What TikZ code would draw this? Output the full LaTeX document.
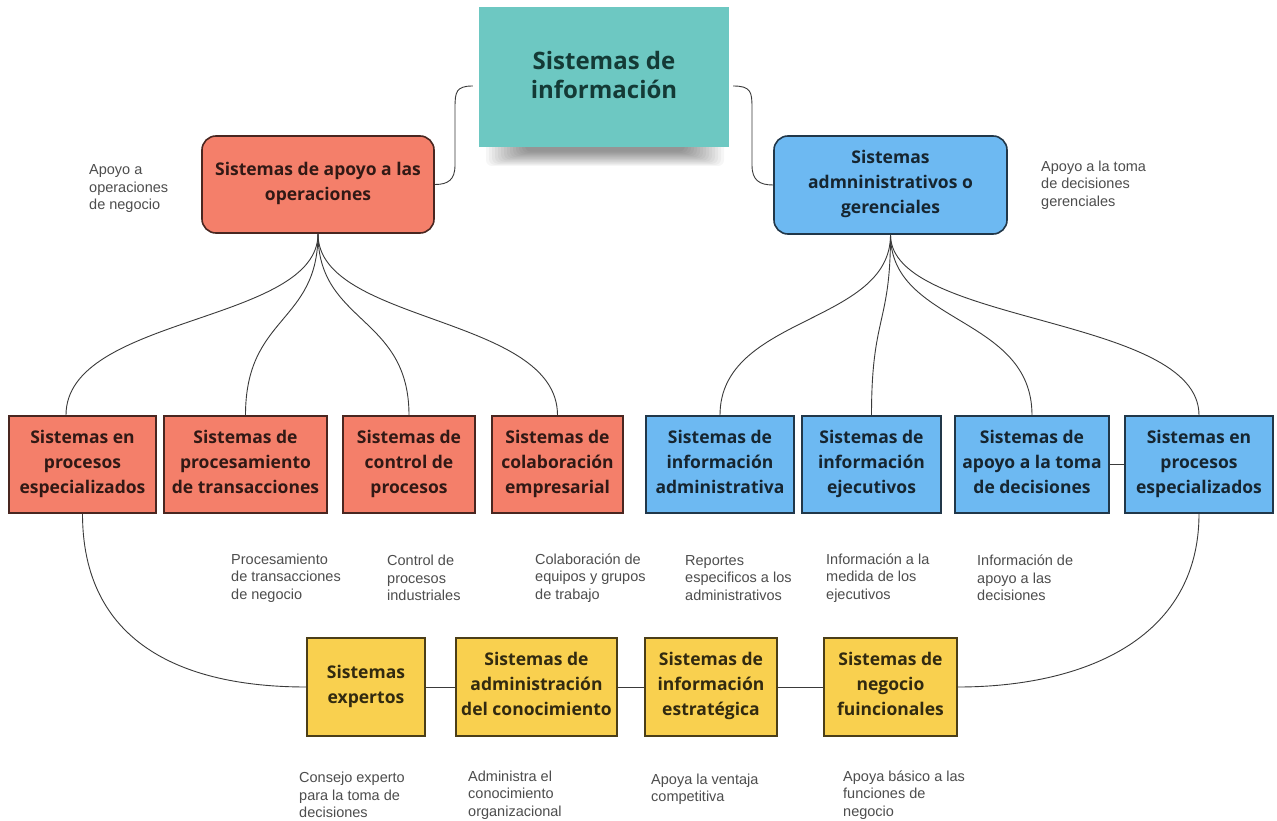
\documentclass[tikz,border=0pt]{standalone}
\usepackage{fontspec}
\setmainfont{Liberation Sans}
\newfontfamily\boxfont{Open Sans}
\usetikzlibrary{calc}

\definecolor{tealfill}{HTML}{6DC8C2}
\definecolor{tealtext}{HTML}{143A36}
\definecolor{opsfill}{HTML}{F47F6A}
\definecolor{admfill}{HTML}{6DB9F2}
\definecolor{yelfill}{HTML}{F9D04F}
\definecolor{notegray}{HTML}{4D4D4D}
\definecolor{linegray}{HTML}{3A3A3A}

% fixed line strut so every box centres its text the same way
\newcommand{\boxstrut}{\rule[-5.5pt]{0pt}{25pt}}

\begin{document}
\begin{tikzpicture}[x=1pt,y=-1pt,
  box/.style={draw=#1!30!black, fill=#1, text=#1!20!black, line width=1.6pt,
    inner sep=0pt, align=center,
    font=\boxfont\bfseries\fontsize{17.5}{25}\selectfont,
    execute at begin node={\boxstrut}, execute at end node={\boxstrut}},
  note/.style={font=\fontsize{14.5}{17.5}\selectfont, text=notegray,
    align=left, inner sep=0pt, anchor=west},
  conn/.style={draw=linegray, line width=0.9pt},
]
\fill[white] (0,0) rectangle (1277,821);
\useasboundingbox (0,0) rectangle (1277,821);

% soft shadow under the title card
\foreach \k in {0,...,13}
  \fill[black, opacity=0.035, rounded corners=6pt]
    (486+3*\k,138) rectangle (724-3*\k,166-1.1*\k);

% title card
\node[fill=tealfill, inner sep=0pt, minimum width=250pt, minimum height=140pt]
  (top) at (604,77) {};
\node[text=tealtext, inner sep=0pt, align=center,
      font=\boxfont\bfseries\fontsize{24}{29}\selectfont,
      execute at begin node={\strut}, execute at end node={\strut}]
  (title) at ([yshift=-2pt]top.center) {Sistemas de\\información};

% second level
\node[box=opsfill, rounded corners=14pt, minimum width=232pt, minimum height=97pt]
  (ops) at (318,184.5) {Sistemas de apoyo a las\\operaciones};
\node[box=admfill, rounded corners=14pt, minimum width=233pt, minimum height=98pt]
  (adm) at (890.5,185) {Sistemas\\admninistrativos o\\gerenciales};

% operations subsystems
\node[box=opsfill, minimum width=147pt, minimum height=97pt] (spe) at (82.5,464.5)
  {Sistemas en\\procesos\\especializados};
\node[box=opsfill, minimum width=163pt, minimum height=97pt] (ptr) at (245.5,464.5)
  {Sistemas de\\procesamiento\\de transacciones};
\node[box=opsfill, minimum width=132pt, minimum height=97pt] (ctl) at (409,464.5)
  {Sistemas de\\control de\\procesos};
\node[box=opsfill, minimum width=131pt, minimum height=97pt] (col) at (557.5,464.5)
  {Sistemas de\\colaboración\\empresarial};

% management subsystems
\node[box=admfill, minimum width=148pt, minimum height=97pt] (sia) at (720,464.5)
  {Sistemas de\\información\\administrativa};
\node[box=admfill, minimum width=139pt, minimum height=97pt] (sie) at (871.5,464.5)
  {Sistemas de\\información\\ejecutivos};
\node[box=admfill, minimum width=154pt, minimum height=97pt] (sat) at (1032,464.5)
  {Sistemas de\\apoyo a la toma\\de decisiones};
\node[box=admfill, minimum width=148pt, minimum height=97pt] (spr) at (1199,464.5)
  {Sistemas en\\procesos\\especializados};

% bottom row
\node[box=yelfill, minimum width=118pt, minimum height=98pt] (exp) at (366,687)
  {Sistemas\\expertos};
\node[box=yelfill, minimum width=161pt, minimum height=98pt] (kno) at (536.5,687)
  {Sistemas de\\administración\\del conocimiento};
\node[box=yelfill, minimum width=132pt, minimum height=98pt] (est) at (711,687)
  {Sistemas de\\información\\estratégica};
\node[box=yelfill, minimum width=133pt, minimum height=98pt] (neg) at (890.5,687)
  {Sistemas de\\negocio\\fuincionales};

% descriptions
\node[note] (d1) at (89,189) {Apoyo a\\operaciones\\de negocio};
\node[note] (d2) at (1041,185) {Apoyo a la toma\\de decisiones\\gerenciales};
\node[note] (d3) at (231,578) {Procesamiento\\de transacciones\\de negocio};
\node[note] (d4) at (387,578) {Control de\\procesos\\industriales};
\node[note] (d5) at (535,578) {Colaboración de\\equipos y grupos\\de trabajo};
\node[note] (d6) at (685,578) {Reportes\\especificos a los\\administrativos};
\node[note] (d7) at (826,578) {Información a la\\medida de los\\ejecutivos};
\node[note] (d8) at (977,578) {Información de\\apoyo a las\\decisiones};
\node[note] (d9) at (299,795) {Consejo experto\\para la toma de\\decisiones};
\node[note] (d10) at (468,795) {Administra el\\conocimiento\\organizacional};
\node[note] (d11) at (651,789) {Apoya la ventaja\\competitiva};
\node[note] (d12) at (843,795) {Apoya básico a las\\funciones de\\negocio};

% title card to the two branches
\draw[conn] ([xshift=-6pt,yshift=-9pt]top.west)
  .. controls (456,86) and (455,92) .. (455,108) -- (455,165)
  .. controls (455,180) and (448,184.5) .. (ops.east);
\draw[conn] ([xshift=4pt,yshift=-9pt]top.east)
  .. controls (751,86) and (752,92) .. (752,108) -- (752,165)
  .. controls (752,180) and (759,185) .. (adm.west);

% operations fan-out
\draw[conn] (ops.south) .. controls ($(ops.south)+(0,90)$) and ($(spe.north)+(-16.5,-100)$) .. ([xshift=-16.5pt]spe.north);
\foreach \c in {ptr,ctl,col}
  \draw[conn] (ops.south) .. controls ($(ops.south)+(0,90)$) and ($(\c.north)+(0,-100)$) .. (\c.north);

% management fan-out
\foreach \c in {sia,sie,sat,spr}
  \draw[conn] (adm.south) .. controls ($(adm.south)+(0,90)$) and ($(\c.north)+(0,-100)$) .. (\c.north);

\draw[conn] (sat.east) -- (spr.west);

% links to the bottom row
\draw[conn] (spe.south) .. controls ($(spe.south)+(0,127)$) and ($(exp.west)+(-127,0)$) .. (exp.west);
\draw[conn] (spr.south) .. controls ($(spr.south)+(0,127)$) and ($(neg.east)+(123,0)$) .. (neg.east);
\draw[conn] (exp.east) -- (kno.west);
\draw[conn] (kno.east) -- (est.west);
\draw[conn] (est.east) -- (neg.west);
\end{tikzpicture}
\end{document}
